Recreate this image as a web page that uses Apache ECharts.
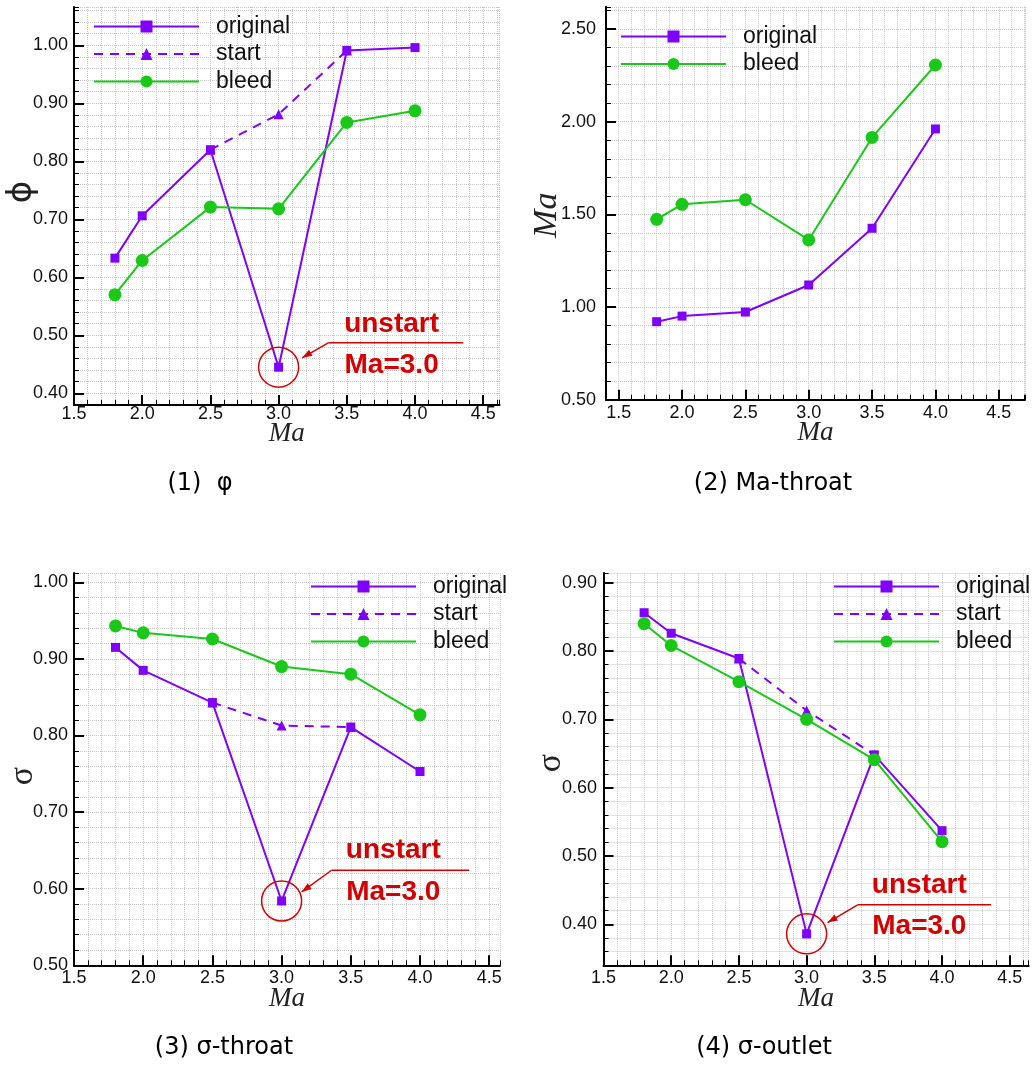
<!DOCTYPE html>
<html><head><meta charset="utf-8">
<script src="https://cdn.jsdelivr.net/npm/echarts@6/dist/echarts.min.js"></script>
<style>html,body{margin:0;padding:0;background:#fff}#c{width:1035px;height:1065px}</style>
</head><body><div id="c"></div>
<script>
// ---------------- data ----------------
const ma = [1.8, 2.0, 2.5, 3.0, 3.5, 4.0];

const phiOriginal = [0.633, 0.706, 0.820, 0.445, 0.991, 0.996];
const phiStart    = [null, null, 0.820, 0.881, 0.991, null];
const phiBleed    = [0.570, 0.629, 0.721, 0.718, 0.867, 0.887];

const maThroatOriginal = [0.921, 0.951, 0.973, 1.119, 1.425, 1.961];
const maThroatBleed    = [1.473, 1.554, 1.579, 1.362, 1.915, 2.306];

const sigmaThroatOriginal = [0.915, 0.885, 0.843, 0.584, 0.811, 0.753];
const sigmaThroatStart    = [null, null, 0.843, 0.813, 0.811, null];
const sigmaThroatBleed    = [0.943, 0.934, 0.926, 0.890, 0.880, 0.827];

const sigmaOutletOriginal = [0.856, 0.826, 0.789, 0.386, 0.648, 0.537];
const sigmaOutletStart    = [null, null, 0.789, 0.713, 0.648, null];
const sigmaOutletBleed    = [0.840, 0.808, 0.755, 0.700, 0.641, 0.521];

const xTickLabels = [1.5, 2.0, 2.5, 3.0, 3.5, 4.0, 4.5];
const phiTickLabels = [0.4, 0.5, 0.6, 0.7, 0.8, 0.9, 1.0];
const maThroatTickLabels = [0.5, 1.0, 1.5, 2.0, 2.5];
const sigmaThroatTickLabels = [0.5, 0.6, 0.7, 0.8, 0.9, 1.0];
const sigmaOutletTickLabels = [0.4, 0.5, 0.6, 0.7, 0.8, 0.9];

const seriesNames = ['original', 'start', 'bleed'];
const captions = ['(1)  \u03C6', '(2) Ma-throat', '(3) \u03C3-throat', '(4) \u03C3-outlet'];
const yNames = ['\u03D5', 'Ma', '\u03C3', '\u03C3'];
const xName = 'Ma';
const unstartMa = 3.0;
const unstartText = ['unstart', 'Ma=3.0'];

// ---------------- styles / layout ----------------
const PURPLE = '#8000ff', GREEN = '#1ac81a', RED = '#d40000';
const TICKFONT = 'Liberation Sans';

const panels = [
  { left: 74, top: 7, width: 425.6, height: 397.9, xMin: 1.5, xMax: 4.62, xStep: 0.1,
    yMin: 0.38, yMax: 1.066, yStep: 0.02, yTicks: phiTickLabels,
    orig: phiOriginal, start: phiStart, bleed: phiBleed,
    xMargin: 0, yMargin: 6, xNameGap: 16, yNameGap: 35, yNamePad: [0, 0, 0, 28], yNameFont: 'DejaVu Sans', yNameItalic: 'normal', yNameSize: 34,
    legend: { left: 93, top: 15 }, caption: [200, 484],
    annot: { t1: [113, -43], ly: -24.4, lx1: 49.6, lx2: 184.6, tip: [23.5, -9.4], t2: [113, -1.7] } },
  { left: 606, top: 6.8, width: 419, height: 392.9, xMin: 1.4, xMax: 4.707, xStep: 0.1,
    yMin: 0.5, yMax: 2.62, yStep: 0.1, yTicks: maThroatTickLabels,
    orig: maThroatOriginal, start: null, bleed: maThroatBleed,
    xMargin: 4, yMargin: 10, xNameGap: 20, yNameGap: 42, yNamePad: [0, 24, 0, 0], yNameFont: 'Liberation Serif', yNameItalic: 'italic', yNameSize: 34,
    legend: { left: 620, top: 25 }, caption: [773, 484], annot: null },
  { left: 74, top: 573.1, width: 426, height: 392.2, xMin: 1.5, xMax: 4.578, xStep: 0.1,
    yMin: 0.5, yMax: 1.012, yStep: 0.02, yTicks: sigmaThroatTickLabels,
    orig: sigmaThroatOriginal, start: sigmaThroatStart, bleed: sigmaThroatBleed,
    xMargin: 4, yMargin: 6, xNameGap: 20, yNameGap: 34, yNamePad: [0, 14, 0, 0], yNameFont: 'Liberation Serif', yNameItalic: 'normal', yNameSize: 34,
    legend: { left: 310, top: 575 }, caption: [224, 1048],
    annot: { t1: [111.7, -50.7], ly: -30.7, lx1: 50, lx2: 187.6, tip: [20, -9], t2: [111.7, -9] } },
  { left: 603.5, top: 573.1, width: 425.2, height: 392.2, xMin: 1.5, xMax: 4.64, xStep: 0.1,
    yMin: 0.34, yMax: 0.914, yStep: 0.02, yTicks: sigmaOutletTickLabels,
    orig: sigmaOutletOriginal, start: sigmaOutletStart, bleed: sigmaOutletBleed,
    xMargin: 4, yMargin: 6.5, xNameGap: 20, yNameGap: 35, yNamePad: [0, 0, 0, 12], yNameFont: 'Liberation Serif', yNameItalic: 'normal', yNameSize: 34,
    legend: { left: 833, top: 575 }, caption: [764, 1048],
    annot: { t1: [112.7, -49], ly: -29, lx1: 51, lx2: 184.4, tip: [21, -11.3], t2: [112.7, -8] } }
];

const gridLine = { show: true, lineStyle: { color: '#c4c4c4', type: [1, 1], width: 1 } };

const grids = [], xAxes = [], yAxes = [], series = [], legends = [];

function toPairs(vals) {
  return ma.map((x, i) => [x, vals[i]]).filter(d => d[1] !== null && d[1] !== undefined);
}

panels.forEach((p, i) => {
  grids.push({ left: p.left, top: p.top, width: p.width, height: p.height, outerBoundsMode: 'none', containLabel: false });
  // primary axes: fine grid + minor ticks
  xAxes.push({ gridIndex: i, type: 'value', position: 'bottom', min: p.xMin, max: p.xMax, interval: p.xStep,
    axisLine: { show: true, onZero: false, lineStyle: { color: '#000', width: 2 } },
    axisTick: { show: true, inside: true, length: 5, lineStyle: { color: '#000', width: 1 } },
    axisLabel: { show: false }, splitLine: gridLine });
  // secondary axes: major ticks + labels + name
  xAxes.push({ gridIndex: i, type: 'value', position: 'bottom', min: p.xMin, max: p.xMax, interval: p.xStep,
    axisLine: { show: false, onZero: false },
    axisTick: { show: true, inside: true, length: 10, customValues: xTickLabels, lineStyle: { color: '#000', width: 2 } },
    axisLabel: { show: true, customValues: xTickLabels, formatter: v => v.toFixed(1), margin: p.xMargin,
      fontFamily: TICKFONT, fontSize: 18, color: '#111' },
    splitLine: { show: false },
    name: xName, nameLocation: 'middle', nameGap: p.xNameGap, nameMoveOverlap: false,
    nameTextStyle: { fontFamily: 'Liberation Serif', fontStyle: 'italic', fontSize: 27, color: '#222' } });

  yAxes.push({ gridIndex: i, type: 'value', position: 'left', min: p.yMin, max: p.yMax, interval: p.yStep,
    axisLine: { show: true, onZero: false, lineStyle: { color: '#000', width: 2 } },
    axisTick: { show: true, inside: true, length: 5, lineStyle: { color: '#000', width: 1 } },
    axisLabel: { show: false }, splitLine: gridLine });
  yAxes.push({ gridIndex: i, type: 'value', position: 'left', min: p.yMin, max: p.yMax, interval: p.yStep,
    axisLine: { show: false, onZero: false },
    axisTick: { show: true, inside: true, length: 10, customValues: p.yTicks, lineStyle: { color: '#000', width: 2 } },
    axisLabel: { show: true, customValues: p.yTicks, formatter: v => v.toFixed(2), margin: p.yMargin,
      fontFamily: TICKFONT, fontSize: 18, color: '#111' },
    splitLine: { show: false },
    name: yNames[i], nameLocation: 'middle', nameGap: p.yNameGap, nameRotate: 90, nameMoveOverlap: false,
    nameTextStyle: { fontFamily: p.yNameFont, fontStyle: p.yNameItalic, fontSize: p.yNameSize, color: '#222', padding: p.yNamePad } });

  const ax = { xAxisIndex: 2 * i, yAxisIndex: 2 * i };
  if (p.start) {
    series.push(Object.assign({ type: 'line', name: 'start', data: toPairs(p.start), symbol: 'triangle', symbolSize: 10,
      showAllSymbol: true, color: PURPLE, itemStyle: { color: PURPLE },
      lineStyle: { color: PURPLE, width: 2, type: [9, 7] }, animation: false, silent: true }, ax));
  }
  series.push(Object.assign({ type: 'line', name: 'original', data: toPairs(p.orig), symbol: 'rect', symbolSize: 9,
    showAllSymbol: true, color: PURPLE, itemStyle: { color: PURPLE },
    lineStyle: { color: PURPLE, width: 2 }, animation: false, silent: true }, ax));
  series.push(Object.assign({ type: 'line', name: 'bleed', data: toPairs(p.bleed), symbol: 'circle', symbolSize: 13,
    showAllSymbol: true, color: GREEN, itemStyle: { color: GREEN },
    lineStyle: { color: GREEN, width: 2 }, animation: false, silent: true }, ax));

  legends.push({ orient: 'vertical', left: p.legend.left, top: p.legend.top, padding: 0,
    itemWidth: 105, itemHeight: 15, itemGap: 4.5, selectedMode: false,
    data: p.start ? seriesNames : ['original', 'bleed'],
    textStyle: { fontFamily: TICKFONT, fontSize: 23, lineHeight: 23, color: '#111', padding: [0, 0, 0, 12] } });
});

const chart = echarts.init(document.getElementById('c'), null, { renderer: 'canvas' });
chart.setOption({
  animation: false,
  backgroundColor: '#fff',
  grid: grids, xAxis: xAxes, yAxis: yAxes, series: series, legend: legends
});

// ---------------- captions + annotations ----------------
const graphics = [];
panels.forEach((p, i) => {
  graphics.push({ type: 'text', silent: true, style: { text: captions[i], x: p.caption[0], y: p.caption[1],
    align: 'center', verticalAlign: 'middle', font: '24px "DejaVu Sans"', fill: '#000' } });
  if (!p.annot) return;
  const idx = ma.indexOf(unstartMa);
  const pt = chart.convertToPixel({ xAxisIndex: 2 * i, yAxisIndex: 2 * i }, [unstartMa, p.orig[idx]]);
  const a = p.annot;
  const cx = pt[0], cy = pt[1];
  graphics.push({ type: 'circle', silent: true, shape: { cx: cx, cy: cy, r: 20 },
    style: { fill: 'none', stroke: RED, lineWidth: 1.5 }, z: 100 });
  const sx = cx + a.lx1, sy = cy + a.ly;
  graphics.push({ type: 'line', silent: true, shape: { x1: sx, y1: sy, x2: cx + a.lx2, y2: sy },
    style: { stroke: RED, lineWidth: 1.5 }, z: 100 });
  const tx = cx + a.tip[0], ty = cy + a.tip[1];
  graphics.push({ type: 'line', silent: true, shape: { x1: sx, y1: sy, x2: tx, y2: ty },
    style: { stroke: RED, lineWidth: 1.5 }, z: 100 });
  const dx = tx - sx, dy = ty - sy, len = Math.hypot(dx, dy);
  const ux = dx / len, uy = dy / len, hl = 10, hw = 3.5;
  const bx = tx - ux * hl, by = ty - uy * hl;
  graphics.push({ type: 'polygon', silent: true,
    shape: { points: [[tx, ty], [bx - uy * hw, by + ux * hw], [bx + uy * hw, by - ux * hw]] },
    style: { fill: RED }, z: 100 });
  graphics.push({ type: 'text', silent: true, z: 100, style: { text: unstartText[0], x: cx + a.t1[0], y: cy + a.t1[1],
    align: 'center', verticalAlign: 'middle', font: 'bold 28px "Liberation Sans"', fill: RED } });
  graphics.push({ type: 'text', silent: true, z: 100, style: { text: unstartText[1], x: cx + a.t2[0], y: cy + a.t2[1],
    align: 'center', verticalAlign: 'middle', font: 'bold 28px "Liberation Sans"', fill: RED } });
});
chart.setOption({ graphic: graphics });
</script>
</body></html>
